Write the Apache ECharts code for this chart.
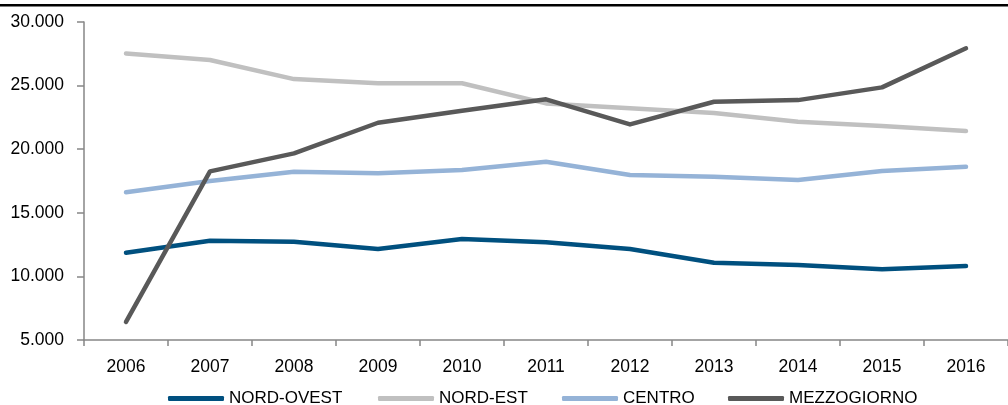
<!DOCTYPE html>
<html>
<head>
<meta charset="utf-8">
<script src="https://cdn.jsdelivr.net/npm/echarts@6/dist/echarts.min.js"></script>
<style>
html,body{margin:0;padding:0;background:#fff;}
#chart{width:1008px;height:405px;}
</style>
</head>
<body>
<div id="chart"></div>
<script>
const years = ['2006','2007','2008','2009','2010','2011','2012','2013','2014','2015','2016'];
const nordOvest = [11860, 12800, 12730, 12150, 12940, 12680, 12150, 11080, 10900, 10560, 10820];
const nordEst = [27530, 27010, 25510, 25180, 25180, 23600, 23210, 22840, 22160, 21820, 21430];
const centro = [16610, 17500, 18230, 18100, 18360, 19010, 17970, 17840, 17580, 18280, 18620];
const mezzogiorno = [6420, 18260, 19670, 22080, 23020, 23920, 21950, 23730, 23860, 24860, 27930];
const seriesNames = ['NORD-OVEST', 'NORD-EST', 'CENTRO', 'MEZZOGIORNO'];
const seriesColors = ['#00507f', '#c0c0c0', '#95b3d7', '#595959'];
const seriesData = [nordOvest, nordEst, centro, mezzogiorno];
const legendLefts = [168, 378, 562, 728];

function fmt(v){ return String(v).replace(/\B(?=(\d{3})+(?!\d))/g, '.'); }

const chart = echarts.init(document.getElementById('chart'), null, {renderer:'canvas'});
const font = 'Liberation Sans, Arial, sans-serif';
chart.setOption({
  animation: false,
  backgroundColor: '#fff',
  textStyle: {fontFamily: font},
  grid: {left: 84, right: -11, top: 22, bottom: 65, containLabel: false},
  xAxis: {
    type: 'category',
    data: years,
    boundaryGap: true,
    axisLine: {show: true, lineStyle: {color: '#868686', width: 1.5}},
    axisTick: {show: true, length: 6, lineStyle: {color: '#868686', width: 1.5}},
    axisLabel: {color: '#000', fontSize: 17.5, margin: 18, fontFamily: font},
    splitLine: {show: false}
  },
  yAxis: {
    type: 'value',
    min: 5000, max: 30000, interval: 5000,
    axisLine: {show: true, lineStyle: {color: '#868686', width: 1.5}},
    axisTick: {show: true, length: 7, lineStyle: {color: '#868686', width: 1.5}},
    axisLabel: {color: '#000', fontSize: 17.5, margin: 20, fontFamily: font, formatter: fmt},
    splitLine: {show: false}
  },
  legend: seriesNames.map((n, i) => ({
    data: [n],
    left: legendLefts[i],
    top: 390,
    icon: 'roundRect',
    itemWidth: 56,
    itemHeight: 5,
    padding: 0,
    textStyle: {color: '#000', fontSize: 17, fontFamily: font}
  })),
  graphic: [{
    type: 'rect',
    shape: {x: 0, y: 4, width: 1008, height: 2.5},
    style: {fill: '#000'},
    silent: true
  }],
  series: seriesNames.map((n, i) => ({
    name: n,
    type: 'line',
    data: seriesData[i],
    symbol: 'none',
    color: seriesColors[i],
    lineStyle: {color: seriesColors[i], width: 4.5, cap: 'round', join: 'round'},
    emphasis: {disabled: true}
  }))
});
</script>
</body>
</html>
